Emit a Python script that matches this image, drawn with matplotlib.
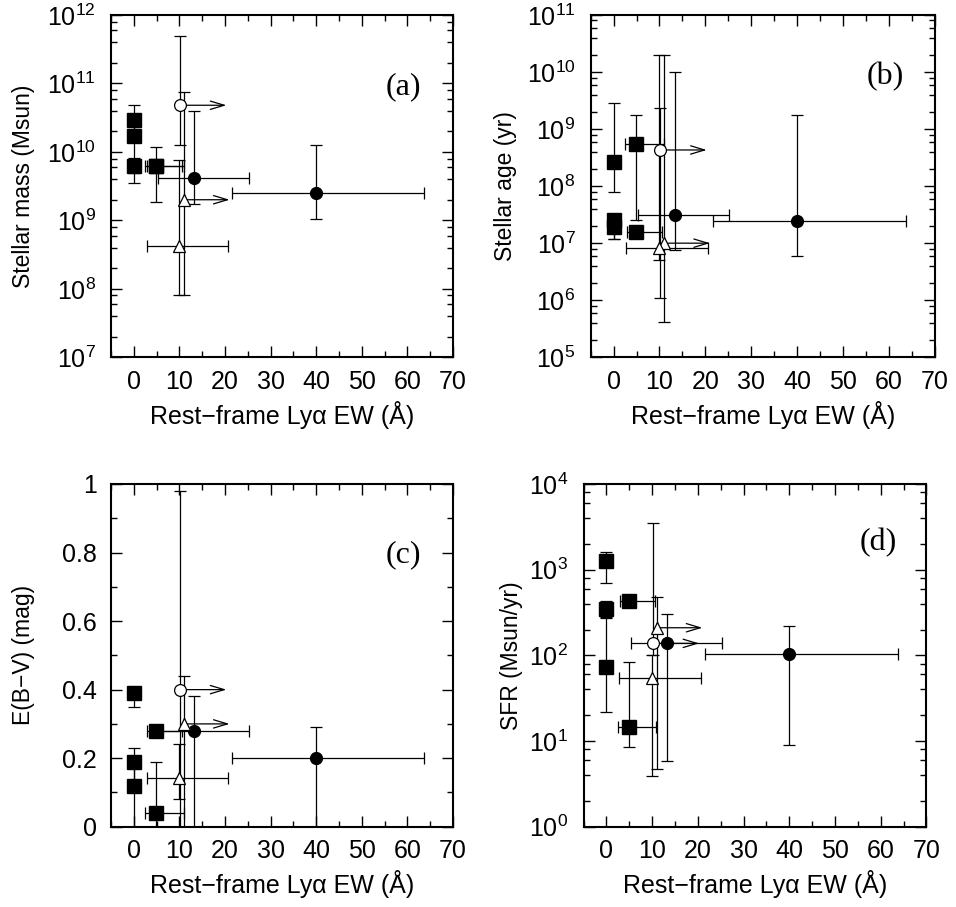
import numpy as np
import matplotlib.pyplot as plt
from matplotlib.ticker import LogLocator, MultipleLocator, NullFormatter

plt.rcParams['font.family'] = ['Liberation Sans', 'DejaVu Sans']
plt.rcParams['mathtext.fontset'] = 'custom'
plt.rcParams['mathtext.rm'] = 'Liberation Sans'
plt.rcParams['mathtext.it'] = 'Liberation Sans:italic'

# rest-frame Lya EW (x) for each object group
sq_x = [0, 0, 0, 4.9, 4.9]
sq_xlo = [0, 0, 0, 3.0, 2.5]
sq_xhi = [0, 0, 0, 10.6, 10.9]
fc_x = [13.3, 40.0]
fc_xlo = [5.3, 21.6]
fc_xhi = [25.2, 63.7]
oc_x = 10.1       # open circle, EW lower limit
oc_xlim = 20.3
t1_x = 11.0       # triangle 1, EW lower limit
t1_xlim = 21.0
t2_x = 10.0       # triangle 2
t2_xlo = 2.8
t2_xhi = 20.6

# (a) stellar mass
mass_sq = [2.9e10, 1.68e10, 6.3e9, 6.3e9, 6.2e9]
mass_sq_lo = [1.7e10, 4.9e9, 3.55e9, 1.85e9, 5.0e9]
mass_sq_hi = [4.8e10, 2.9e10, 8.1e9, 1.17e10, 7.5e9]
mass_fc = [4.1e9, 2.5e9]
mass_fc_lo = [1.75e9, 1.05e9]
mass_fc_hi = [4.0e10, 1.27e10]
mass_oc = [4.8e10, 1.24e10, 5.0e11]
mass_t1 = [2.0e9, 8e7, 7.4e10]
mass_t2 = [4.2e8, 8e7, 7.5e9]

# (b) stellar age
age_sq = [2.6e8, 2.5e7, 1.95e7, 1.54e7, 5.5e8]
age_sq_lo = [8e7, 1.2e7, 1.2e7, 1.35e7, 2.5e7]
age_sq_hi = [2.9e9, 3e7, 2.3e7, 1.7e7, 1.8e9]
age_fc = [3.1e7, 2.4e7]
age_fc_lo = [7.5e6, 5.9e6]
age_fc_hi = [1.0e10, 1.8e9]
age_oc = [4.3e8, 1.1e6, 2.3e9]
age_t1 = [1.0e7, 4.2e5, 2.0e10]
age_t2 = [8.1e6, 5e6, 2.0e10]

# (c) E(B-V)
ebv_sq = [0.39, 0.19, 0.12, 0.28, 0.04]
ebv_sq_lo = [0.35, 0.12, 0.0, 0.28, 0.0]
ebv_sq_hi = [0.40, 0.23, 0.19, 0.28, 0.19]
ebv_fc = [0.28, 0.20]
ebv_fc_lo = [0.0, 0.0]
ebv_fc_hi = [0.38, 0.29]
ebv_oc = [0.40, 0.0, 0.98]
ebv_t1 = [0.30, 0.0, 0.44]
ebv_t2 = [0.143, 0.08, 0.24]

# (d) SFR
sfr_sq = [1270, 348, 74, 427, 14.5]
sfr_sq_lo = [690, 278, 21.6, 427, 8.5]
sfr_sq_hi = [1590, 435, 270, 427, 83]
sfr_fc = [141, 105]
sfr_fc_lo = [5.8, 9.0]
sfr_fc_hi = [301, 222]
sfr_oc = [138, 102, 3500]
sfr_t1 = [210, 4.7, 484]
sfr_t2 = [55, 3.9, 102]

ebv_ticks = [0, 0.2, 0.4, 0.6, 0.8, 1]
ebv_ticklabels = ['0', '0.2', '0.4', '0.6', '0.8', '1']

xlabel = 'Rest\u2212frame Ly\u03b1 EW (\u00c5)'


def err(ax, x, xlo, xhi, y, lo, hi):
    x = np.atleast_1d(np.asarray(x, float))
    y = np.atleast_1d(np.asarray(y, float))
    xe = [x - np.atleast_1d(xlo), np.atleast_1d(xhi) - x]
    ye = [y - np.atleast_1d(lo), np.atleast_1d(hi) - y]
    ax.errorbar(x, y, xerr=xe, yerr=ye, fmt='none', ecolor='k',
                elinewidth=0.9, capsize=4, capthick=0.9, zorder=2)


def arrow(ax, x0, x1, y):
    ax.annotate('', xy=(x1, y), xytext=(x0, y),
                arrowprops=dict(arrowstyle='->,head_length=1.0,head_width=0.3',
                                color='k', lw=0.9, shrinkA=0, shrinkB=0),
                zorder=2)


def panel(ax, sq, sq_lo, sq_hi, fc, fc_lo, fc_hi, oc, t1, t2, log, ylim, ylab,
          ylab_x, tag, tagpos):
    err(ax, sq_x, sq_xlo, sq_xhi, sq, sq_lo, sq_hi)
    err(ax, fc_x, fc_xlo, fc_xhi, fc, fc_lo, fc_hi)
    err(ax, oc_x, oc_x, oc_x, oc[0], oc[1], oc[2])
    err(ax, t1_x, t1_x, t1_x, t1[0], t1[1], t1[2])
    err(ax, t2_x, t2_xlo, t2_xhi, t2[0], t2[1], t2[2])
    arrow(ax, oc_x, oc_xlim, oc[0])
    arrow(ax, t1_x, t1_xlim, t1[0])
    ax.plot(sq_x, sq, 's', color='k', ms=9.5, zorder=3)
    ax.plot(fc_x, fc, 'o', color='k', ms=8.5, zorder=3)
    ax.plot([oc_x], [oc[0]], 'o', mfc='white', mec='k', mew=0.9, ms=8.5, zorder=3)
    ax.plot([t1_x, t2_x], [t1[0], t2[0]], '^', mfc='white', mec='k', mew=0.9, ms=8, zorder=3)

    ax.set_xlim(-5, 70)
    ax.xaxis.set_major_locator(MultipleLocator(10))
    ax.xaxis.set_minor_locator(MultipleLocator(5))
    if log:
        ax.set_yscale('log')
        ax.yaxis.set_major_locator(LogLocator(base=10, numticks=20))
        ax.yaxis.set_minor_locator(LogLocator(base=10, subs=[2, 4, 6, 8], numticks=20))
        ax.yaxis.set_minor_formatter(NullFormatter())
    else:
        ax.set_yticks(ebv_ticks)
        ax.set_yticklabels(ebv_ticklabels)
        ax.yaxis.set_minor_locator(MultipleLocator(0.1))
    ax.set_ylim(*ylim)
    ax.tick_params(which='both', direction='in', top=True, right=True, width=1, labelsize=18)
    ax.tick_params(which='major', length=8)
    ax.tick_params(which='minor', length=4)
    ax.tick_params(axis='x', pad=9)
    ax.tick_params(axis='y', pad=11 if log else 10)
    for s in ax.spines.values():
        s.set_linewidth(1.5)
    ax.set_xlabel(xlabel, fontsize=18, labelpad=5)
    ax.set_ylabel(ylab, fontsize=16.5, va='center', ha='center')
    ax.yaxis.set_label_coords(ylab_x, 0.5)
    ax.text(tagpos[0], tagpos[1], tag, transform=ax.transAxes, fontsize=23,
            family='Liberation Serif', ha='center', va='center')


fig = plt.figure(figsize=(9.56, 9.07), dpi=100)
ax_a = fig.add_axes([0.1161, 0.6061, 0.3578, 0.3774])
ax_b = fig.add_axes([0.6179, 0.6061, 0.3597, 0.3774])
ax_c = fig.add_axes([0.1161, 0.0885, 0.3578, 0.3779])
ax_d = fig.add_axes([0.6104, 0.0885, 0.3586, 0.3779])

panel(ax_a, mass_sq, mass_sq_lo, mass_sq_hi, mass_fc, mass_fc_lo, mass_fc_hi,
      mass_oc, mass_t1, mass_t2, True, (1e7, 1e12), 'Stellar mass (Msun)', -0.257,
      '(a)', (0.854, 0.79))
panel(ax_b, age_sq, age_sq_lo, age_sq_hi, age_fc, age_fc_lo, age_fc_hi,
      age_oc, age_t1, age_t2, True, (1e5, 1e11), 'Stellar age (yr)', -0.249,
      '(b)', (0.856, 0.82))
panel(ax_c, ebv_sq, ebv_sq_lo, ebv_sq_hi, ebv_fc, ebv_fc_lo, ebv_fc_hi,
      ebv_oc, ebv_t1, ebv_t2, False, (0, 1), 'E(B\u2212V) (mag)', -0.257,
      '(c)', (0.854, 0.793))
panel(ax_d, sfr_sq, sfr_sq_lo, sfr_sq_hi, sfr_fc, sfr_fc_lo, sfr_fc_hi,
      sfr_oc, sfr_t1, sfr_t2, True, (1, 1e4), 'SFR (Msun/yr)', -0.209,
      '(d)', (0.859, 0.828))

fig.savefig('out.png', dpi=100)
